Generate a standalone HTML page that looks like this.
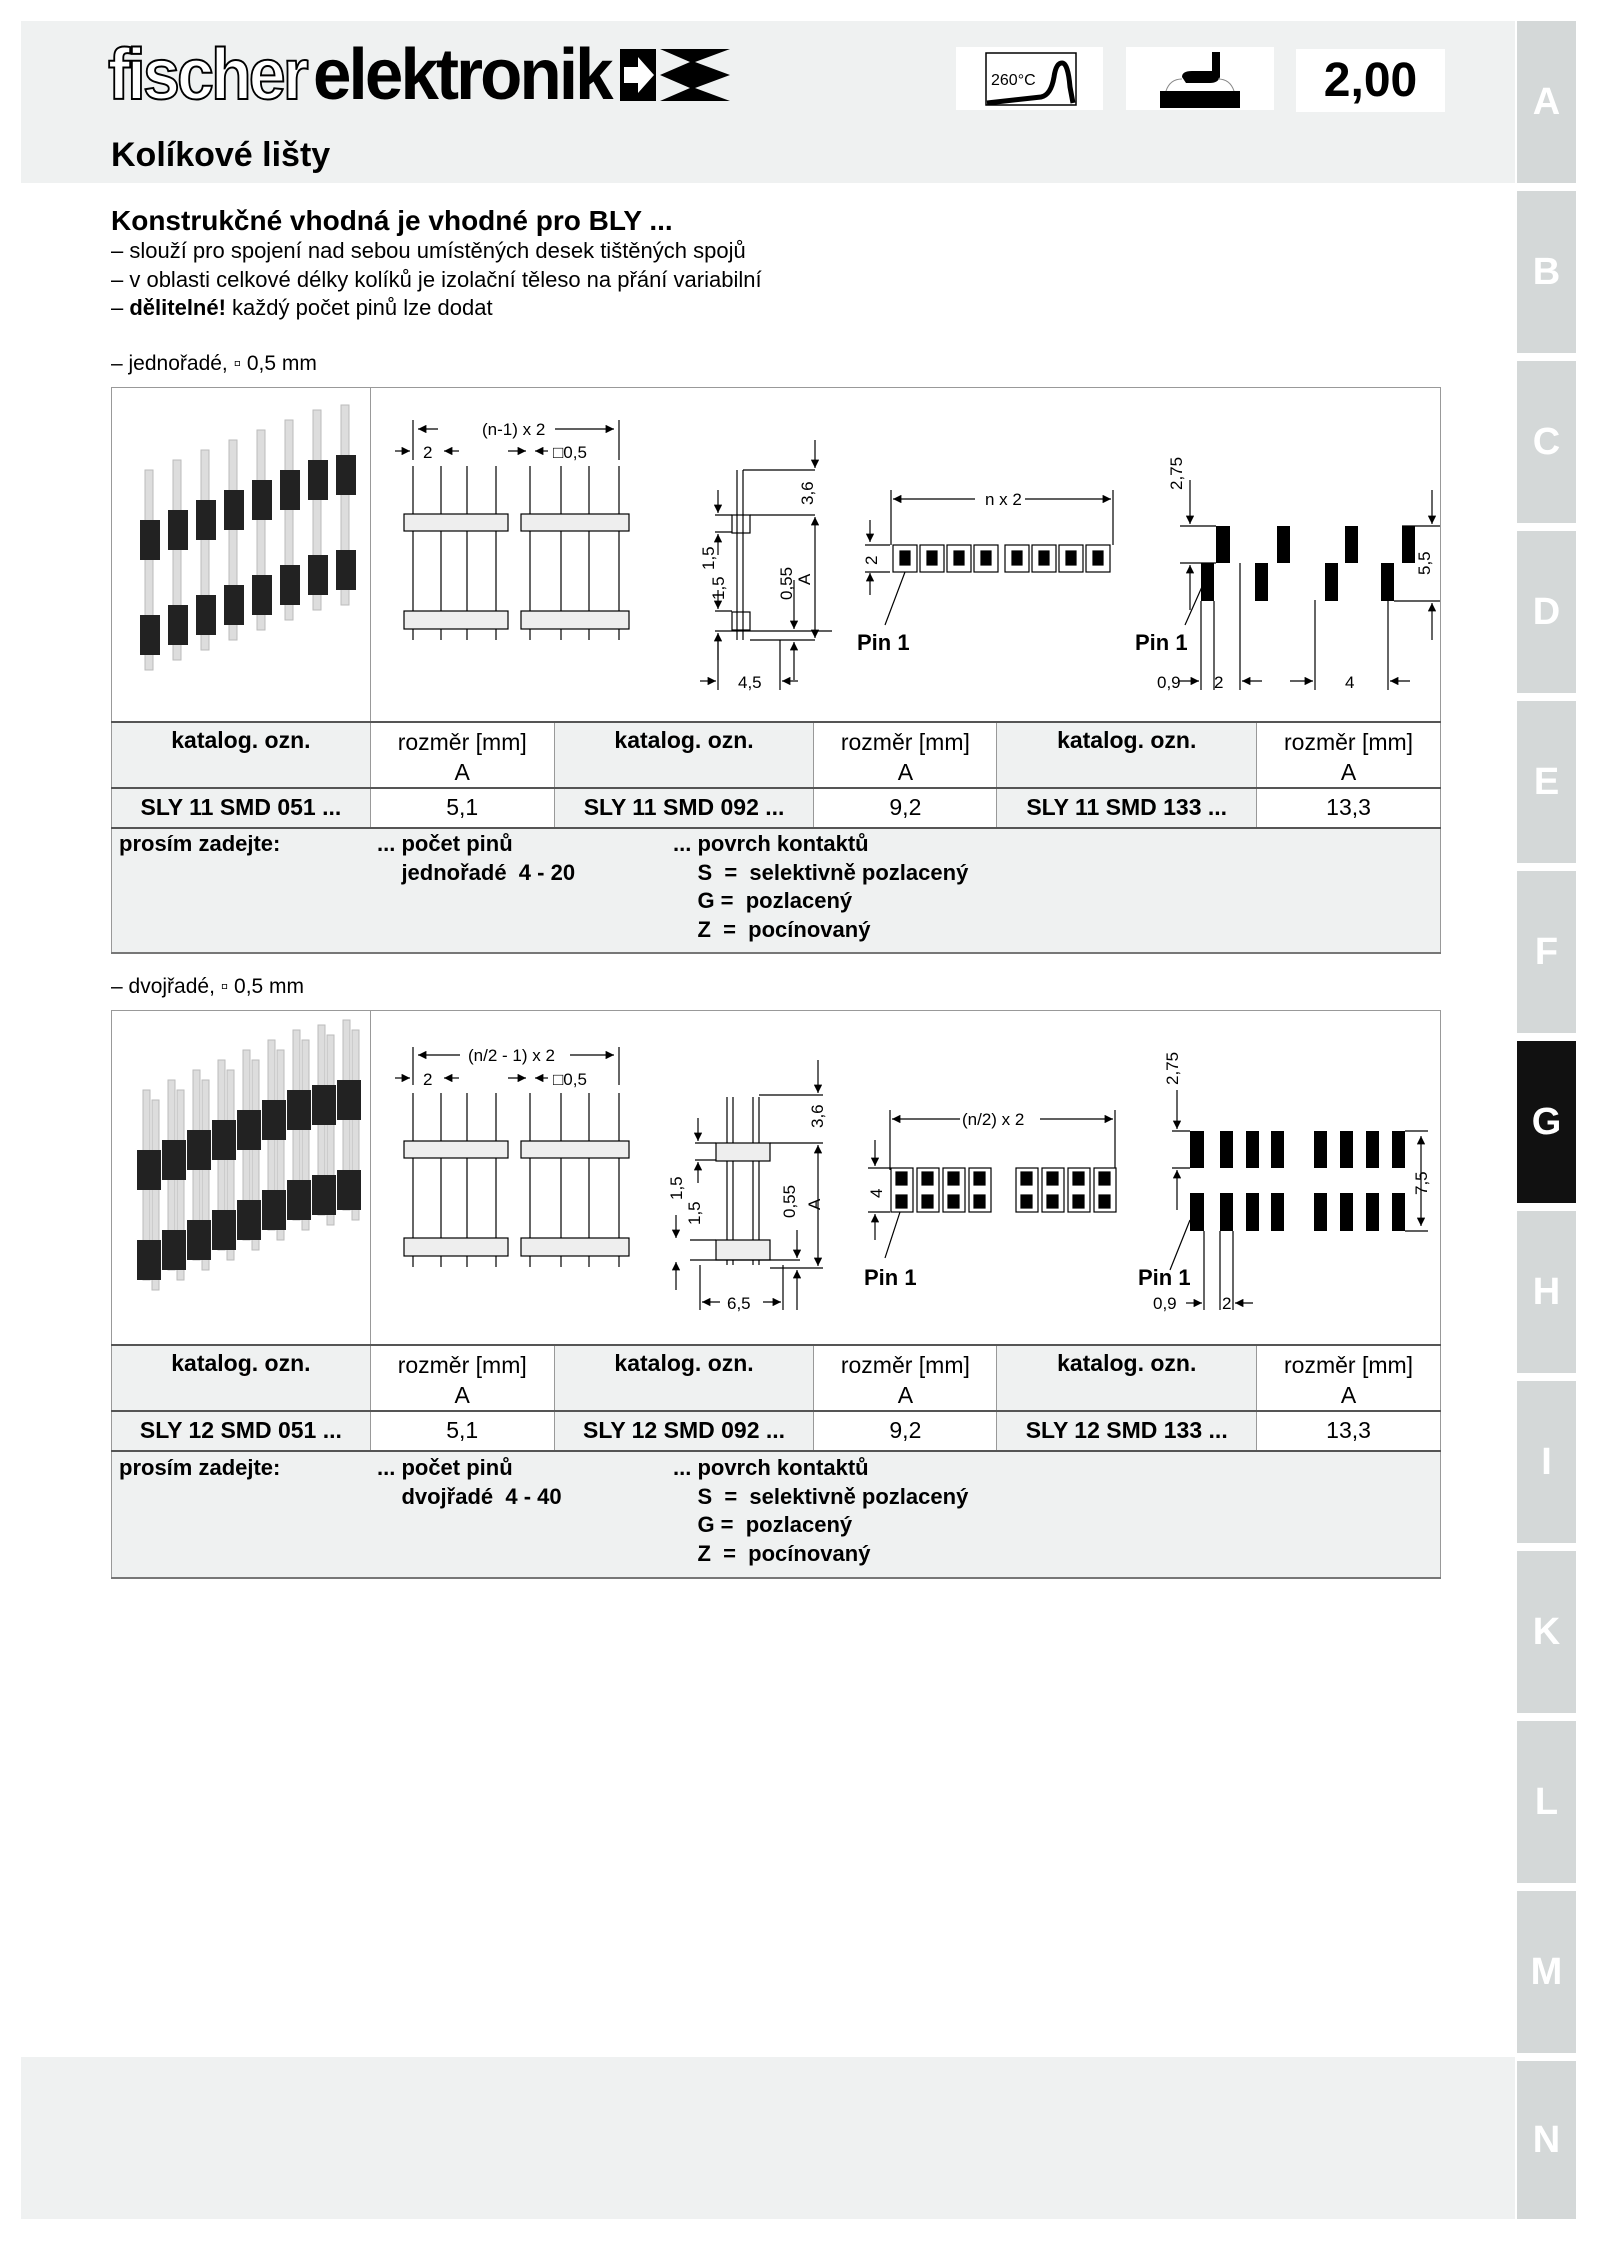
<!DOCTYPE html>
<html><head><meta charset="utf-8"><style>
*{margin:0;padding:0;box-sizing:border-box}
body{width:1600px;height:2245px;background:#fff;position:relative;overflow:hidden;font-family:"Liberation Sans",sans-serif;color:#000}
.a{position:absolute;white-space:nowrap}
.b{font-weight:bold}
.tab{position:absolute;left:1517px;width:59px;height:162px;background:#d4d8d8;color:#fff;font:bold 38px "Liberation Sans",sans-serif;display:flex;align-items:center;justify-content:center}
.tab.g{background:#111}
table{position:absolute;left:111px;width:1330px;border-collapse:collapse;font-size:23px}
td{border:1px solid #999;text-align:center;vertical-align:top}
.gr{background:#eff1f1}
.hd td{border-top:2px solid #555}
.dt td{border-top:2px solid #555;vertical-align:middle}
.pr td{border-top:2px solid #555;background:#eff1f1;text-align:left;border-bottom:2px solid #777}
</style></head><body>
<div class="a" style="left:21px;top:21px;width:1494px;height:162px;background:#eff1f1"></div>
<div class="a" style="left:21px;top:2057px;width:1494px;height:162px;background:#eff1f1"></div>
<div class="tab" style="top:21px">A</div>
<div class="tab" style="top:191px">B</div>
<div class="tab" style="top:361px">C</div>
<div class="tab" style="top:531px">D</div>
<div class="tab" style="top:701px">E</div>
<div class="tab" style="top:871px">F</div>
<div class="tab g" style="top:1041px">G</div>
<div class="tab" style="top:1211px">H</div>
<div class="tab" style="top:1381px">I</div>
<div class="tab" style="top:1551px">K</div>
<div class="tab" style="top:1721px">L</div>
<div class="tab" style="top:1891px">M</div>
<div class="tab" style="top:2061px;height:158px">N</div>

<!-- logo -->
<div class="a b" style="left:108px;top:34px;font-size:72px;letter-spacing:-3px;color:#fff;-webkit-text-stroke:2px #000;transform:scaleX(.92);transform-origin:0 0">fischer</div>
<div class="a b" style="left:313px;top:34px;font-size:72px;letter-spacing:-3px;transform:scaleX(.96);transform-origin:0 0">elektronik</div>
<svg class="a" style="left:620px;top:45px" width="112" height="60"><rect x="0" y="4" width="36" height="52" fill="#000"/><path d="M4 22h14v-10l16 18-16 18v-10H4z" fill="#fff"/><path d="M40 4h70L75 17l35 13-35 13 35 13H40l30-13-30-13 30-13z" fill="#000"/></svg>

<!-- icons -->
<div class="a" style="left:956px;top:47px;width:147px;height:63px;background:#fff"></div>
<svg class="a" style="left:956px;top:47px" width="147" height="63"><rect x="30" y="6" width="90" height="52" fill="none" stroke="#000" stroke-width="1.5"/><text x="35" y="38" font-size="16" font-family="Liberation Sans,sans-serif">260°C</text><path d="M31 56 L85 50 Q95 48 98 30 Q100 16 106 16 Q112 16 114 40 L117 56" fill="none" stroke="#000" stroke-width="5"/></svg>
<div class="a" style="left:1126px;top:47px;width:148px;height:63px;background:#fff"></div>
<svg class="a" style="left:1126px;top:47px" width="148" height="63"><rect x="34" y="44" width="80" height="17" fill="#000"/><path d="M56 30 Q56 24 66 24 L86 24 L86 5 L94 5 L94 30 Q92 36 84 36 L60 36 Z" fill="#000"/><path d="M40 44 Q44 32 56 32 M108 44 Q104 32 92 32" fill="none" stroke="#888"/></svg>
<div class="a b" style="left:1296px;top:49px;width:149px;height:63px;background:#fff;font:bold 48px 'Liberation Sans',sans-serif;text-align:center;line-height:63px">2,00</div>

<div class="a b" style="left:111px;top:136px;font-size:34px">Kolíkové lišty</div>
<div class="a b" style="left:111px;top:205px;font-size:28px">Konstrukčné vhodná je vhodné pro BLY ...</div>
<div class="a" style="left:111px;top:237px;font-size:22px;line-height:28.5px">– slouží pro spojení nad sebou umístěných desek tištěných spojů<br>– v oblasti celkové délky kolíků je izolační těleso na přání variabilní<br>– <b>dělitelné!</b> každý počet pinů lze dodat</div>
<div class="a" style="left:111px;top:352px;font-size:21px">– jednořadé, ▫ 0,5 mm</div>
<div class="a" style="left:111px;top:975px;font-size:21px">– dvojřadé, ▫ 0,5 mm</div>

<!-- table 1 -->
<table style="top:387px">
<colgroup><col style="width:259px"><col style="width:184px"><col style="width:260px"><col style="width:183px"><col style="width:260px"><col style="width:184px"></colgroup>
<tr style="height:334px"><td style="border-right:1px solid #999"></td><td colspan="5"></td></tr>
<tr class="hd" style="height:65px"><td class="gr b" style="padding-top:4px">katalog. ozn.</td><td style="padding-top:4px;line-height:30px">rozměr [mm]<br>A</td><td class="gr b" style="padding-top:4px">katalog. ozn.</td><td style="padding-top:4px;line-height:30px">rozměr [mm]<br>A</td><td class="gr b" style="padding-top:4px">katalog. ozn.</td><td style="padding-top:4px;line-height:30px">rozměr [mm]<br>A</td></tr>
<tr class="dt" style="height:40px"><td class="gr b">SLY 11 SMD 051 ...</td><td>5,1</td><td class="gr b">SLY 11 SMD 092 ...</td><td>9,2</td><td class="gr b">SLY 11 SMD 133 ...</td><td>13,3</td></tr>
<tr class="pr" style="height:125px"><td colspan="6"></td></tr>
</table>
<!-- table 2 -->
<table style="top:1010px">
<colgroup><col style="width:259px"><col style="width:184px"><col style="width:260px"><col style="width:183px"><col style="width:260px"><col style="width:184px"></colgroup>
<tr style="height:334px"><td></td><td colspan="5"></td></tr>
<tr class="hd" style="height:65px"><td class="gr b" style="padding-top:4px">katalog. ozn.</td><td style="padding-top:4px;line-height:30px">rozměr [mm]<br>A</td><td class="gr b" style="padding-top:4px">katalog. ozn.</td><td style="padding-top:4px;line-height:30px">rozměr [mm]<br>A</td><td class="gr b" style="padding-top:4px">katalog. ozn.</td><td style="padding-top:4px;line-height:30px">rozměr [mm]<br>A</td></tr>
<tr class="dt" style="height:40px"><td class="gr b">SLY 12 SMD 051 ...</td><td>5,1</td><td class="gr b">SLY 12 SMD 092 ...</td><td>9,2</td><td class="gr b">SLY 12 SMD 133 ...</td><td>13,3</td></tr>
<tr class="pr" style="height:127px"><td colspan="6"></td></tr>
</table>

<div class="a b" style="left:119px;top:830px;font-size:22px;line-height:28.5px">prosím zadejte:</div>
<div class="a b" style="left:377px;top:830px;font-size:22px;line-height:28.5px">... počet pinů<br>&nbsp;&nbsp;&nbsp;&nbsp;jednořadé&nbsp; 4 - 20</div>
<div class="a b" style="left:673px;top:830px;font-size:22px;line-height:28.5px">... povrch kontaktů<br>&nbsp;&nbsp;&nbsp;&nbsp;S&nbsp; =&nbsp; selektivně pozlacený<br>&nbsp;&nbsp;&nbsp;&nbsp;G =&nbsp; pozlacený<br>&nbsp;&nbsp;&nbsp;&nbsp;Z&nbsp; =&nbsp; pocínovaný</div>
<div class="a b" style="left:119px;top:1454px;font-size:22px;line-height:28.5px">prosím zadejte:</div>
<div class="a b" style="left:377px;top:1454px;font-size:22px;line-height:28.5px">... počet pinů<br>&nbsp;&nbsp;&nbsp;&nbsp;dvojřadé&nbsp; 4 - 40</div>
<div class="a b" style="left:673px;top:1454px;font-size:22px;line-height:28.5px">... povrch kontaktů<br>&nbsp;&nbsp;&nbsp;&nbsp;S&nbsp; =&nbsp; selektivně pozlacený<br>&nbsp;&nbsp;&nbsp;&nbsp;G =&nbsp; pozlacený<br>&nbsp;&nbsp;&nbsp;&nbsp;Z&nbsp; =&nbsp; pocínovaný</div>

<svg class="a" style="left:0;top:0" width="1600" height="2245" font-family="Liberation Sans,sans-serif" font-size="17">
<defs>
<marker id="ar" viewBox="0 0 10 10" refX="10" refY="5" markerWidth="7" markerHeight="7" orient="auto-start-reverse"><path d="M0 0L10 5L0 10z" fill="#000"/></marker>
</defs>
<!-- photo 1 -->
<g>
<g id="ph1">
<rect x="145" y="470" width="8" height="200" fill="#ddd" stroke="#bbb"/>
<rect x="140" y="520" width="20" height="40" fill="#222"/>
<rect x="140" y="615" width="20" height="40" fill="#222"/>
</g>
<use href="#ph1" x="28" y="-10"/><use href="#ph1" x="56" y="-20"/><use href="#ph1" x="84" y="-30"/><use href="#ph1" x="112" y="-40"/><use href="#ph1" x="140" y="-50"/><use href="#ph1" x="168" y="-60"/><use href="#ph1" x="196" y="-65"/>
</g>
<!-- front view 1 -->
<g stroke="#000" fill="none" stroke-width="1.2">
<g id="fv">
<line x1="413" y1="466" x2="413" y2="640"/><line x1="441" y1="466" x2="441" y2="640"/><line x1="467" y1="466" x2="467" y2="640"/><line x1="496" y1="466" x2="496" y2="640"/>
<line x1="530" y1="466" x2="530" y2="640"/><line x1="561" y1="466" x2="561" y2="640"/><line x1="589" y1="466" x2="589" y2="640"/><line x1="619" y1="466" x2="619" y2="640"/>
<rect x="404" y="514" width="104" height="17" fill="#eee"/><rect x="521" y="514" width="108" height="17" fill="#eee"/>
<rect x="404" y="611" width="104" height="18" fill="#eee"/><rect x="521" y="611" width="108" height="18" fill="#eee"/>
</g>
<line x1="413" y1="420" x2="413" y2="460"/><line x1="619" y1="420" x2="619" y2="460"/>
<line x1="418" y1="429" x2="438" y2="429" marker-start="url(#ar)"/><line x1="555" y1="429" x2="614" y2="429" marker-end="url(#ar)"/>
<line x1="395" y1="451" x2="410" y2="451" marker-end="url(#ar)"/><line x1="444" y1="451" x2="459" y2="451" marker-start="url(#ar)"/>
<line x1="508" y1="451" x2="526" y2="451" marker-end="url(#ar)"/><line x1="535" y1="451" x2="548" y2="451" marker-start="url(#ar)"/>
</g>
<text x="482" y="435">(n-1) x 2</text><text x="423" y="458">2</text><text x="553" y="458">□0,5</text>
<!-- side view 1 -->
<g stroke="#000" fill="none" stroke-width="1.2">
<line x1="737" y1="470" x2="737" y2="640"/><line x1="743" y1="470" x2="743" y2="640"/>
<rect x="732" y="515" width="18" height="18"/><rect x="732" y="612" width="18" height="18"/>
<line x1="743" y1="470" x2="815" y2="470"/><line x1="750" y1="515" x2="815" y2="515"/><line x1="715" y1="515" x2="732" y2="515"/>
<line x1="715" y1="532" x2="732" y2="532"/><line x1="715" y1="611" x2="732" y2="611"/><line x1="715" y1="631" x2="832" y2="631"/><line x1="750" y1="640" x2="815" y2="640"/>
<line x1="815" y1="440" x2="815" y2="468" marker-end="url(#ar)"/><line x1="815" y1="517" x2="815" y2="638" marker-start="url(#ar)" marker-end="url(#ar)"/>
<line x1="718" y1="490" x2="718" y2="513" marker-end="url(#ar)"/><line x1="718" y1="555" x2="718" y2="534" marker-end="url(#ar)"/>
<line x1="718" y1="590" x2="718" y2="609" marker-end="url(#ar)"/><line x1="718" y1="660" x2="718" y2="633" marker-end="url(#ar)"/>
<line x1="794" y1="580" x2="794" y2="629" marker-end="url(#ar)"/><line x1="794" y1="680" x2="794" y2="642" marker-end="url(#ar)"/>
<line x1="718" y1="640" x2="718" y2="690"/><line x1="780" y1="640" x2="780" y2="690"/>
<line x1="700" y1="681" x2="716" y2="681" marker-end="url(#ar)"/><line x1="798" y1="681" x2="782" y2="681" marker-end="url(#ar)"/>
</g>
<text x="738" y="688">4,5</text>
<text transform="translate(813 505) rotate(-90)">3,6</text>
<text transform="translate(714 570) rotate(-90)">1,5</text><text transform="translate(724 600) rotate(-90)">1,5</text>
<text transform="translate(792 600) rotate(-90)">0,55</text><text transform="translate(810 585) rotate(-90)">A</text>
<!-- top view 1 -->
<g stroke="#000" stroke-width="1.2">
<line x1="891" y1="490" x2="891" y2="545" fill="none"/><line x1="1113" y1="490" x2="1113" y2="545"/>
<line x1="893" y1="499" x2="975" y2="499" marker-start="url(#ar)"/><line x1="1025" y1="499" x2="1111" y2="499" marker-end="url(#ar)"/>
<line x1="870" y1="520" x2="870" y2="542" marker-end="url(#ar)"/><line x1="870" y1="595" x2="870" y2="573" marker-end="url(#ar)"/>
<line x1="865" y1="545" x2="890" y2="545"/><line x1="865" y1="572" x2="890" y2="572"/>
<g fill="#fff"><rect x="893" y="545" width="24" height="27"/><rect x="920" y="545" width="24" height="27"/><rect x="947" y="545" width="24" height="27"/><rect x="974" y="545" width="24" height="27"/>
<rect x="1005" y="545" width="24" height="27"/><rect x="1032" y="545" width="24" height="27"/><rect x="1059" y="545" width="24" height="27"/><rect x="1086" y="545" width="24" height="27"/></g>
<g fill="#000"><rect x="900" y="551" width="10" height="14"/><rect x="927" y="551" width="10" height="14"/><rect x="954" y="551" width="10" height="14"/><rect x="981" y="551" width="10" height="14"/>
<rect x="1012" y="551" width="10" height="14"/><rect x="1039" y="551" width="10" height="14"/><rect x="1066" y="551" width="10" height="14"/><rect x="1093" y="551" width="10" height="14"/></g>
<line x1="905" y1="572" x2="885" y2="625"/>
</g>
<text x="985" y="505">n x 2</text><text transform="translate(877 565) rotate(-90)">2</text>
<text x="857" y="650" font-size="22" font-weight="bold">Pin 1</text>
<!-- footprint 1 -->
<g fill="#000">
<rect x="1216" y="526" width="14" height="37"/><rect x="1277" y="526" width="13" height="37"/><rect x="1345" y="526" width="13" height="37"/><rect x="1402" y="526" width="13" height="37"/>
<rect x="1201" y="563" width="13" height="38"/><rect x="1255" y="563" width="13" height="38"/><rect x="1325" y="563" width="13" height="38"/><rect x="1381" y="563" width="13" height="38"/>
</g>
<g stroke="#000" stroke-width="1.2" fill="none">
<line x1="1180" y1="526" x2="1216" y2="526"/><line x1="1180" y1="563" x2="1216" y2="563"/><line x1="1402" y1="526" x2="1440" y2="526"/><line x1="1394" y1="601" x2="1440" y2="601"/>
<line x1="1190" y1="480" x2="1190" y2="524" marker-end="url(#ar)"/><line x1="1190" y1="610" x2="1190" y2="565" marker-end="url(#ar)"/>
<line x1="1432" y1="490" x2="1432" y2="524" marker-end="url(#ar)"/><line x1="1432" y1="640" x2="1432" y2="603" marker-end="url(#ar)"/>
<line x1="1201" y1="601" x2="1201" y2="690"/><line x1="1214" y1="601" x2="1214" y2="690"/><line x1="1240" y1="563" x2="1240" y2="690"/><line x1="1315" y1="600" x2="1315" y2="690"/><line x1="1388" y1="600" x2="1388" y2="690"/>
<line x1="1178" y1="681" x2="1199" y2="681" marker-end="url(#ar)"/><line x1="1262" y1="681" x2="1242" y2="681" marker-end="url(#ar)"/>
<line x1="1290" y1="681" x2="1313" y2="681" marker-end="url(#ar)"/><line x1="1410" y1="681" x2="1390" y2="681" marker-end="url(#ar)"/>
<line x1="1205" y1="580" x2="1185" y2="625"/>
</g>
<text transform="translate(1182 490) rotate(-90)">2,75</text><text transform="translate(1430 575) rotate(-90)">5,5</text>
<text x="1157" y="688">0,9</text><text x="1214" y="688">2</text><text x="1345" y="688">4</text>
<text x="1135" y="650" font-size="22" font-weight="bold">Pin 1</text>

<!-- ===== section 2 ===== -->
<g>
<g id="ph2">
<rect x="143" y="1090" width="7" height="190" fill="#ddd" stroke="#bbb"/><rect x="152" y="1100" width="7" height="190" fill="#ddd" stroke="#bbb"/>
<rect x="137" y="1150" width="24" height="40" fill="#222"/>
<rect x="137" y="1240" width="24" height="40" fill="#222"/>
</g>
<use href="#ph2" x="25" y="-10"/><use href="#ph2" x="50" y="-20"/><use href="#ph2" x="75" y="-30"/><use href="#ph2" x="100" y="-40"/><use href="#ph2" x="125" y="-50"/><use href="#ph2" x="150" y="-60"/><use href="#ph2" x="175" y="-65"/><use href="#ph2" x="200" y="-70"/>
</g>
<g stroke="#000" fill="none" stroke-width="1.2">
<use href="#fv" y="627"/>
<line x1="413" y1="1047" x2="413" y2="1085"/><line x1="619" y1="1047" x2="619" y2="1085"/>
<line x1="418" y1="1055" x2="460" y2="1055" marker-start="url(#ar)"/><line x1="570" y1="1055" x2="614" y2="1055" marker-end="url(#ar)"/>
<line x1="395" y1="1078" x2="410" y2="1078" marker-end="url(#ar)"/><line x1="444" y1="1078" x2="459" y2="1078" marker-start="url(#ar)"/>
<line x1="508" y1="1078" x2="526" y2="1078" marker-end="url(#ar)"/><line x1="535" y1="1078" x2="548" y2="1078" marker-start="url(#ar)"/>
</g>
<text x="468" y="1061">(n/2 - 1) x 2</text><text x="423" y="1085">2</text><text x="553" y="1085">□0,5</text>
<!-- side view 2 -->
<g stroke="#000" fill="none" stroke-width="1.2">
<line x1="727" y1="1097" x2="727" y2="1265"/><line x1="733" y1="1097" x2="733" y2="1265"/><line x1="753" y1="1097" x2="753" y2="1265"/><line x1="759" y1="1097" x2="759" y2="1265"/>
<rect x="716" y="1143" width="54" height="18" fill="#eee"/><rect x="716" y="1240" width="54" height="20" fill="#eee"/>
<line x1="759" y1="1095" x2="823" y2="1095"/><line x1="770" y1="1143" x2="823" y2="1143"/><line x1="695" y1="1143" x2="716" y2="1143"/>
<line x1="695" y1="1160" x2="716" y2="1160"/><line x1="690" y1="1240" x2="716" y2="1240"/><line x1="690" y1="1260" x2="800" y2="1260"/><line x1="770" y1="1268" x2="823" y2="1268"/>
<line x1="818" y1="1060" x2="818" y2="1093" marker-end="url(#ar)"/><line x1="818" y1="1145" x2="818" y2="1266" marker-start="url(#ar)" marker-end="url(#ar)"/>
<line x1="698" y1="1118" x2="698" y2="1141" marker-end="url(#ar)"/><line x1="698" y1="1183" x2="698" y2="1162" marker-end="url(#ar)"/>
<line x1="676" y1="1215" x2="676" y2="1238" marker-end="url(#ar)"/><line x1="676" y1="1290" x2="676" y2="1262" marker-end="url(#ar)"/>
<line x1="797" y1="1230" x2="797" y2="1258" marker-end="url(#ar)"/><line x1="797" y1="1310" x2="797" y2="1270" marker-end="url(#ar)"/>
<line x1="700" y1="1265" x2="700" y2="1310"/><line x1="783" y1="1265" x2="783" y2="1310"/>
<line x1="720" y1="1302" x2="702" y2="1302" marker-end="url(#ar)"/><line x1="763" y1="1302" x2="781" y2="1302" marker-end="url(#ar)"/>
</g>
<text x="727" y="1309">6,5</text>
<text transform="translate(823 1128) rotate(-90)">3,6</text>
<text transform="translate(682 1200) rotate(-90)">1,5</text><text transform="translate(700 1225) rotate(-90)">1,5</text>
<text transform="translate(795 1218) rotate(-90)">0,55</text><text transform="translate(820 1210) rotate(-90)">A</text>
<!-- top view 2 -->
<g stroke="#000" stroke-width="1.2">
<line x1="890" y1="1110" x2="890" y2="1170" fill="none"/><line x1="1115" y1="1110" x2="1115" y2="1170"/>
<line x1="892" y1="1119" x2="960" y2="1119" marker-start="url(#ar)"/><line x1="1040" y1="1119" x2="1113" y2="1119" marker-end="url(#ar)"/>
<line x1="875" y1="1140" x2="875" y2="1166" marker-end="url(#ar)"/><line x1="875" y1="1240" x2="875" y2="1214" marker-end="url(#ar)"/>
<line x1="868" y1="1168" x2="890" y2="1168"/><line x1="868" y1="1212" x2="890" y2="1212"/>
<g id="dp"><rect x="891" y="1168" width="22" height="44" fill="#fff"/><rect x="896" y="1172" width="11" height="13" fill="#000"/><rect x="896" y="1195" width="11" height="13" fill="#000"/></g>
<use href="#dp" x="26"/><use href="#dp" x="52"/><use href="#dp" x="78"/><use href="#dp" x="125"/><use href="#dp" x="151"/><use href="#dp" x="177"/><use href="#dp" x="203"/>
<line x1="900" y1="1212" x2="885" y2="1258"/>
</g>
<text x="962" y="1125">(n/2) x 2</text><text transform="translate(882 1198) rotate(-90)">4</text>
<text x="864" y="1285" font-size="22" font-weight="bold">Pin 1</text>
<!-- footprint 2 -->
<g fill="#000">
<rect x="1190" y="1131" width="14" height="37"/><rect x="1220" y="1131" width="13" height="37"/><rect x="1246" y="1131" width="13" height="37"/><rect x="1271" y="1131" width="13" height="37"/>
<rect x="1314" y="1131" width="13" height="37"/><rect x="1340" y="1131" width="13" height="37"/><rect x="1366" y="1131" width="13" height="37"/><rect x="1392" y="1131" width="13" height="37"/>
<rect x="1190" y="1193" width="14" height="38"/><rect x="1220" y="1193" width="13" height="38"/><rect x="1246" y="1193" width="13" height="38"/><rect x="1271" y="1193" width="13" height="38"/>
<rect x="1314" y="1193" width="13" height="38"/><rect x="1340" y="1193" width="13" height="38"/><rect x="1366" y="1193" width="13" height="38"/><rect x="1392" y="1193" width="13" height="38"/>
</g>
<g stroke="#000" stroke-width="1.2" fill="none">
<line x1="1172" y1="1131" x2="1190" y2="1131"/><line x1="1172" y1="1168" x2="1190" y2="1168"/><line x1="1405" y1="1131" x2="1428" y2="1131"/><line x1="1405" y1="1231" x2="1428" y2="1231"/>
<line x1="1177" y1="1090" x2="1177" y2="1129" marker-end="url(#ar)"/><line x1="1177" y1="1210" x2="1177" y2="1170" marker-end="url(#ar)"/>
<line x1="1421" y1="1136" x2="1421" y2="1226" marker-start="url(#ar)" marker-end="url(#ar)"/>
<line x1="1204" y1="1231" x2="1204" y2="1310"/><line x1="1220" y1="1231" x2="1220" y2="1310"/><line x1="1233" y1="1231" x2="1233" y2="1310"/>
<line x1="1186" y1="1303" x2="1202" y2="1303" marker-end="url(#ar)"/><line x1="1253" y1="1303" x2="1235" y2="1303" marker-end="url(#ar)"/>
<line x1="1190" y1="1220" x2="1170" y2="1270"/>
</g>
<text transform="translate(1178 1085) rotate(-90)">2,75</text><text transform="translate(1427 1195) rotate(-90)">7,5</text>
<text x="1153" y="1309">0,9</text><text x="1222" y="1309">2</text>
<text x="1138" y="1285" font-size="22" font-weight="bold">Pin 1</text>
</svg>
</body></html>
